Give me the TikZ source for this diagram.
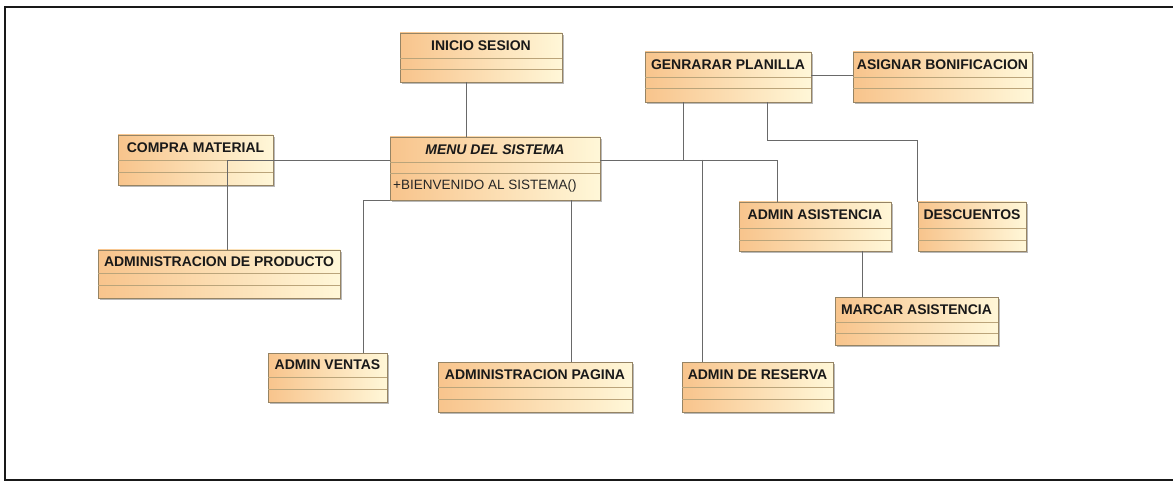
\documentclass[tikz,border=0pt]{standalone}
\usepackage{fontspec}
\setmainfont{Liberation Sans}
\usetikzlibrary{shadows}

\definecolor{boxleft}{RGB}{248,196,140}
\definecolor{boxright}{RGB}{255,247,216}
\definecolor{boxedge}{RGB}{150,132,100}
\definecolor{compline}{RGB}{186,164,122}
\definecolor{wire}{RGB}{105,105,105}

\tikzset{
  classshape/.style={rectangle, draw=boxedge, line width=0.8pt,
    left color=boxleft, right color=boxright, inner sep=0pt,
    drop shadow={shadow xshift=2pt, shadow yshift=-2pt, fill=black!50, opacity=0.55}},
  compsep/.style={draw=compline, line width=0.7pt},
  classtitle/.style={inner sep=0pt, font=\fontsize{14}{16}\selectfont\bfseries, text=black!90},
  optext/.style={inner sep=0pt, anchor=west, font=\fontsize{13.5}{15}\selectfont, text=black!85},
  conn/.style={draw=wire, line width=0.9pt},
  frameline/.style={draw=black!90, line width=2pt}
}

% class box: name, x1, y1, x2, y2, first separator y, second separator y, title
\newcommand\classbox[8]{%
  \node[classshape, minimum width={(#4-#2)*1pt}, minimum height={(#5-#3)*1pt}]
    (#1) at ({(#2+#4)/2},{(#3+#5)/2}) {};
  \draw[compsep] (#2,#6) -- (#4,#6);
  \draw[compsep] (#2,#7) -- (#4,#7);
  \node[classtitle] (#1-title) at ({(#2+#4)/2},{(#3+#6)/2}) {#8};
}

\begin{document}
\begin{tikzpicture}[x=1pt,y=-1pt]
  \useasboundingbox (0,0) rectangle (1173,481);
  \fill[white] (0,0) rectangle (1173,481);

  % outer frame
  \draw[frameline] (1174,7) -- (5,7) -- (5,480) -- (1174,480);

  % classes
  \classbox{inicio}{400}{33}{562}{82}{58}{69}{INICIO SESION}
  \classbox{menu}{390}{137}{600}{200}{162}{173}{\itshape MENU DEL SISTEMA}
  \node[optext] (menu-op) at (393,186) {+BIENVENIDO AL SISTEMA()};
  \classbox{compra}{118}{135}{273}{185}{160}{172}{COMPRA MATERIAL}
  \classbox{admprod}{98}{250}{340}{298}{273}{285}{ADMINISTRACION DE PRODUCTO}
  \classbox{ventas}{268}{353}{387}{402}{377}{389}{ADMIN VENTAS}
  \classbox{pagina}{438}{362}{632}{412}{387}{399}{ADMINISTRACION PAGINA}
  \classbox{reserva}{682}{362}{833}{412}{387}{399}{ADMIN DE RESERVA}
  \classbox{genplan}{645}{52}{811}{102}{77}{88}{GENRARAR PLANILLA}
  \classbox{asignar}{853}{52}{1032}{102}{77}{88}{ASIGNAR BONIFICACION}
  \classbox{asist}{739}{202}{891}{251}{228}{240}{ADMIN ASISTENCIA}
  \classbox{desc}{918}{202}{1026}{251}{228}{240}{DESCUENTOS}
  \classbox{marcar}{835}{297}{998}{345}{322}{333}{MARCAR ASISTENCIA}

  % junctions on the right-hand bus
  \coordinate (jplan) at (683,160);
  \coordinate (jres) at (702,160);

  % connectors
  \draw[conn] ([xshift=-15pt]inicio.south) -- ([xshift=-15pt]inicio.south |- menu.north);
  \draw[conn] ([yshift=8.5pt]menu.west) -| ([xshift=8pt]admprod.north);
  \draw[conn] (menu.south west) -| ([xshift=35.5pt]ventas.north);
  \draw[conn] ([xshift=76pt]menu.south) -- ([xshift=76pt]menu.south |- pagina.north);
  \draw[conn] ([yshift=8.5pt]menu.east) -| ([xshift=-38pt]asist.north);
  \draw[conn] ([xshift=-45pt]genplan.south) -- (jplan);
  \draw[conn] (jres) -- (jres |- reserva.north);
  \draw[conn] ([xshift=39pt]genplan.south) -- ++(0,38) -| (desc.north west);
  \draw[conn] ([yshift=2pt]genplan.east) -- ([yshift=2pt]genplan.east -| asignar.west);
  \draw[conn] ([xshift=47pt]asist.south) -- ([xshift=47pt]asist.south |- marcar.north);
\end{tikzpicture}
\end{document}
